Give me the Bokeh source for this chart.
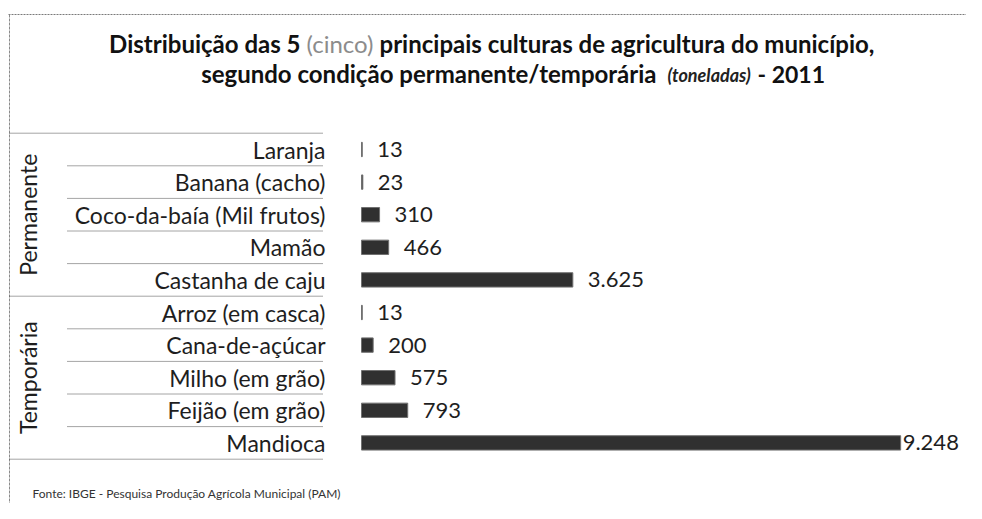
import numpy as np
from bokeh.plotting import figure
from bokeh.models import Range1d, ColumnDataSource
from bokeh.core.properties import value
from bokeh.embed import file_html
from bokeh.resources import INLINE

# ---------------- data ----------------
groups = ["Permanente", "Temporária"]
crops = ["Laranja", "Banana (cacho)", "Coco-da-baía (Mil frutos)", "Mamão",
         "Castanha de caju", "Arroz (em casca)", "Cana-de-açúcar",
         "Milho (em grão)", "Feijão (em grão)", "Mandioca"]
crop_group = ["Permanente"] * 5 + ["Temporária"] * 5
tons = [13, 23, 310, 466, 3625, 13, 200, 575, 793, 9248]

title_1 = ["Distribuição das 5", "(cinco)", "principais culturas de agricultura do município,"]
title_2 = ["segundo condição permanente/temporária", "(toneladas)", "- 2011"]
source_note = "Fonte: IBGE - Pesquisa Produção Agrícola Municipal (PAM)"

# ---------------- layout ----------------
W, H = 966, 503
PXU = 0.0583         # pixels per tonne
BAR_X = 361          # px where bars start
ROW = 32.6           # px per row
ROW0 = 149           # px of first row centre
FONT = value("Lato")


def fx(px):  # px -> data x
    return (px - BAR_X) / PXU


def fy(py):  # px -> data y
    return (py - ROW0) / ROW


p = figure(width=W, height=H, output_backend="svg", toolbar_location=None,
           x_range=Range1d(-BAR_X / PXU, (W - BAR_X) / PXU),
           y_range=Range1d((H - ROW0) / ROW, -ROW0 / ROW),
           x_axis_location=None, y_axis_location=None, min_border=0)
p.outline_line_color = None
p.grid.visible = False
p.background_fill_color = "white"
p.border_fill_color = "white"

n = len(crops)
idx = np.arange(n)
fmt = [f"{v:,}".replace(",", ".") for v in tons]
# labels that would run past the edge sit right at the bar end
offs = [15 if t < 0.9 * max(tons) else 2 for t in tons]
src = ColumnDataSource(dict(y=idx, crop=crops, tons=tons, lbl=fmt, off=offs))

# frame lines (scanned dotted look)
p.segment(x0=[fx(8)], y0=[fy(14)], x1=[fx(982)], y1=[fy(14)],
          line_color="#7a7a7a", line_width=1, line_dash="2 1")
p.segment(x0=[fx(9)], y0=[fy(14)], x1=[fx(9)], y1=[fy(519)],
          line_color="#8a8a8a", line_width=1, line_dash="3 1")

# separators
row_sep, grp_sep = [], [-0.5, n - 0.5]
for i in range(n - 1):
    (row_sep if crop_group[i] == crop_group[i + 1] else grp_sep).append(i + 0.5)
p.segment(x0=fx(67), y0=row_sep, x1=fx(322), y1=row_sep,
          line_color="#4a4a4a", line_width=1, line_dash="1 1")
p.segment(x0=fx(9), y0=grp_sep, x1=fx(322), y1=grp_sep,
          line_color="#4a4a4a", line_width=1, line_dash="1 1")

# bars
p.hbar(y="y", left=0, right="tons", height=0.44, source=src,
       fill_color="#303030", line_color="#707070", line_width=1)

# value labels
p.text(x="tons", y="y", text="lbl", source=src, x_offset="off",
       text_align="left", text_baseline="middle", text_font=FONT,
       text_font_size="22px", text_color="#1e1e1e")

# crop labels
p.text(x=fx(325), y="y", text="crop", source=src,
       text_align="right", text_baseline="middle", text_font=FONT,
       text_font_size="23px", text_color="#1e1e1e")

# group labels
gy = [float(np.mean([i for i in idx if crop_group[i] == g])) for g in groups]
p.text(x=fx(27), y=gy, text=groups, angle=np.pi / 2,
       text_align="center", text_baseline="middle", text_font=FONT,
       text_font_size="23px", text_color="#1e1e1e")

# title
p.text(x=[fx(300)], y=[fy(43)], text=[title_1[0]], text_align="right",
       text_baseline="middle", text_font=FONT, text_font_size="24px",
       text_font_style="bold", text_color="#111111")
p.text(x=[fx(306)], y=[fy(43)], text=[title_1[1]], text_align="left",
       text_baseline="middle", text_font=FONT, text_font_size="24px",
       text_color="#8c8c8c")
p.text(x=[fx(379)], y=[fy(43)], text=[title_1[2]], text_align="left",
       text_baseline="middle", text_font=FONT, text_font_size="24px",
       text_font_style="bold", text_color="#111111")
p.text(x=[fx(656)], y=[fy(73)], text=[title_2[0]], text_align="right",
       text_baseline="middle", text_font=FONT, text_font_size="24px",
       text_font_style="bold", text_color="#111111")
p.text(x=[fx(667)], y=[fy(74)], text=[title_2[1]], text_align="left",
       text_baseline="middle", text_font=FONT, text_font_size="18px",
       text_font_style="bold italic", text_color="#222222")
p.text(x=[fx(757)], y=[fy(73)], text=[title_2[2]], text_align="left",
       text_baseline="middle", text_font=FONT, text_font_size="23px",
       text_font_style="bold", text_color="#111111")

# source note
p.text(x=[fx(32)], y=[fy(493)], text=[source_note], text_align="left",
       text_baseline="middle", text_font=FONT, text_font_size="12px",
       text_color="#333333")

open("out.html", "w").write(file_html(p, INLINE))
